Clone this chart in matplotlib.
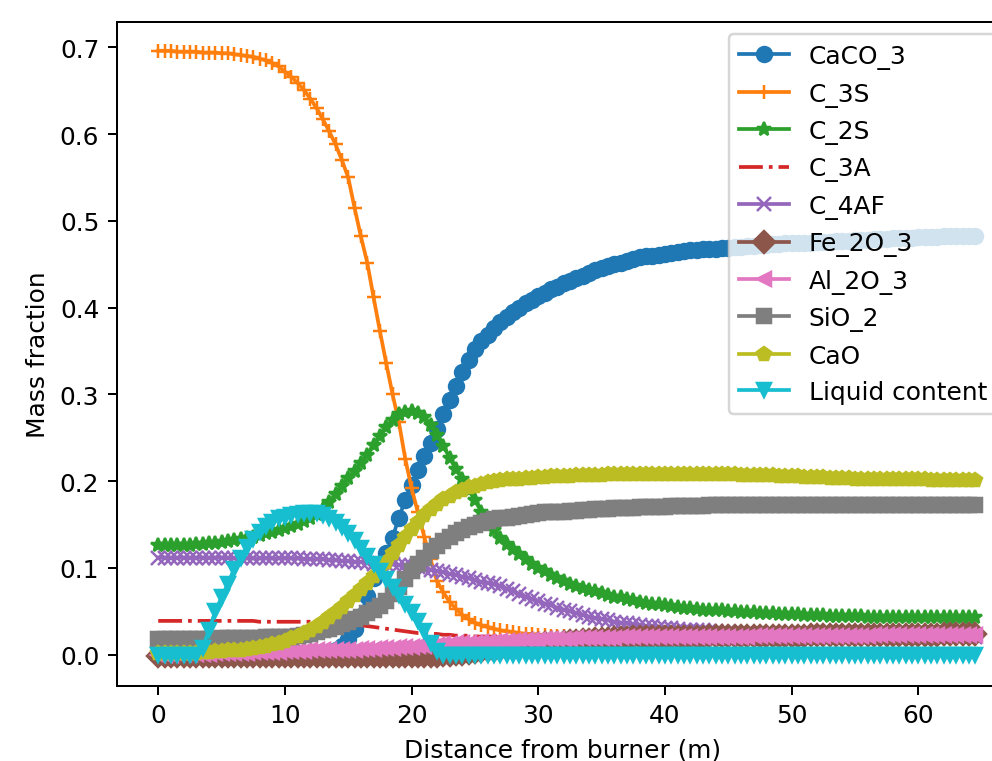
import numpy as np
import matplotlib
matplotlib.use("Agg")
import matplotlib.pyplot as plt

# sampling grid along the kiln (m), one point every 0.5 m
distance = np.arange(130) * 0.5

caco3 = [
    0.000, 0.000, 0.000, 0.000, 0.000, 0.000, 0.000, 0.000, 0.000, 0.000,
    0.000, 0.000, 0.000, 0.000, 0.000, 0.000, 0.000, 0.000, 0.000, 0.000,
    0.000, 0.000, 0.000, 0.000, 0.001, 0.001, 0.001, 0.002, 0.005, 0.010,
    0.018, 0.030, 0.045, 0.068, 0.088, 0.103, 0.117, 0.135, 0.158, 0.178,
    0.196, 0.213, 0.229, 0.244, 0.260, 0.277, 0.294, 0.310, 0.326, 0.340,
    0.352, 0.361, 0.369, 0.376, 0.383, 0.389, 0.395, 0.400, 0.405, 0.409,
    0.413, 0.417, 0.421, 0.424, 0.428, 0.431, 0.434, 0.437, 0.440, 0.443,
    0.446, 0.448, 0.450, 0.452, 0.454, 0.456, 0.458, 0.459, 0.460, 0.461,
    0.462, 0.463, 0.464, 0.465, 0.466, 0.466, 0.467, 0.468, 0.468, 0.469,
    0.469, 0.470, 0.470, 0.471, 0.471, 0.472, 0.472, 0.473, 0.473, 0.474,
    0.474, 0.474, 0.475, 0.475, 0.476, 0.476, 0.476, 0.477, 0.477, 0.477,
    0.478, 0.478, 0.478, 0.479, 0.479, 0.479, 0.480, 0.480, 0.480, 0.480,
    0.481, 0.481, 0.481, 0.481, 0.482, 0.482, 0.482, 0.482, 0.482, 0.483,
]
c3s = [
    0.696, 0.696, 0.696, 0.695, 0.695, 0.695, 0.695, 0.694, 0.694, 0.694,
    0.693, 0.693, 0.692, 0.691, 0.690, 0.689, 0.687, 0.685, 0.682, 0.678,
    0.672, 0.666, 0.659, 0.651, 0.641, 0.630, 0.617, 0.603, 0.588, 0.570,
    0.550, 0.515, 0.482, 0.452, 0.412, 0.373, 0.336, 0.300, 0.268, 0.226,
    0.192, 0.164, 0.136, 0.110, 0.085, 0.072, 0.061, 0.053, 0.046, 0.041,
    0.037, 0.034, 0.032, 0.030, 0.028, 0.027, 0.026, 0.025, 0.024, 0.024,
    0.023, 0.023, 0.022, 0.022, 0.022, 0.021, 0.021, 0.021, 0.021, 0.020,
    0.020, 0.020, 0.020, 0.020, 0.020, 0.020, 0.020, 0.020, 0.020, 0.020,
    0.019, 0.019, 0.019, 0.019, 0.019, 0.019, 0.019, 0.019, 0.019, 0.019,
    0.019, 0.019, 0.019, 0.019, 0.019, 0.019, 0.019, 0.019, 0.019, 0.019,
    0.019, 0.019, 0.019, 0.019, 0.019, 0.019, 0.019, 0.019, 0.019, 0.019,
    0.018, 0.018, 0.018, 0.018, 0.018, 0.018, 0.018, 0.018, 0.018, 0.018,
    0.018, 0.018, 0.018, 0.018, 0.018, 0.018, 0.018, 0.018, 0.018, 0.018,
]
c2s = [
    0.126, 0.126, 0.126, 0.127, 0.127, 0.127, 0.128, 0.128, 0.129, 0.129,
    0.130, 0.131, 0.132, 0.133, 0.134, 0.136, 0.138, 0.140, 0.142, 0.144,
    0.146, 0.148, 0.151, 0.154, 0.158, 0.162, 0.168, 0.176, 0.185, 0.195,
    0.204, 0.212, 0.221, 0.230, 0.242, 0.252, 0.262, 0.271, 0.277, 0.280,
    0.281, 0.279, 0.274, 0.265, 0.253, 0.241, 0.227, 0.214, 0.202, 0.190,
    0.178, 0.165, 0.154, 0.144, 0.135, 0.128, 0.122, 0.116, 0.110, 0.105,
    0.100, 0.096, 0.092, 0.088, 0.085, 0.082, 0.079, 0.077, 0.075, 0.073,
    0.071, 0.069, 0.067, 0.066, 0.064, 0.063, 0.061, 0.060, 0.059, 0.058,
    0.057, 0.056, 0.055, 0.054, 0.054, 0.053, 0.052, 0.052, 0.051, 0.051,
    0.050, 0.050, 0.049, 0.049, 0.049, 0.048, 0.048, 0.048, 0.047, 0.047,
    0.047, 0.047, 0.046, 0.046, 0.046, 0.046, 0.045, 0.045, 0.045, 0.045,
    0.045, 0.045, 0.044, 0.044, 0.044, 0.044, 0.044, 0.044, 0.043, 0.043,
    0.043, 0.043, 0.043, 0.043, 0.043, 0.043, 0.043, 0.043, 0.043, 0.043,
]
c3a = [
    0.039, 0.039, 0.039, 0.039, 0.039, 0.039, 0.039, 0.039, 0.039, 0.039,
    0.039, 0.039, 0.039, 0.039, 0.039, 0.039, 0.038, 0.038, 0.038, 0.038,
    0.038, 0.038, 0.038, 0.038, 0.038, 0.037, 0.037, 0.037, 0.037, 0.036,
    0.035, 0.034, 0.034, 0.033, 0.032, 0.031, 0.030, 0.029, 0.028, 0.027,
    0.026, 0.025, 0.025, 0.024, 0.024, 0.023, 0.023, 0.022, 0.022, 0.022,
    0.021, 0.021, 0.021, 0.021, 0.021, 0.021, 0.021, 0.021, 0.021, 0.021,
    0.020, 0.020, 0.020, 0.020, 0.020, 0.020, 0.020, 0.020, 0.020, 0.020,
    0.020, 0.020, 0.020, 0.020, 0.020, 0.020, 0.020, 0.020, 0.020, 0.020,
    0.020, 0.020, 0.020, 0.020, 0.020, 0.020, 0.020, 0.020, 0.020, 0.020,
    0.020, 0.020, 0.020, 0.020, 0.020, 0.020, 0.020, 0.020, 0.020, 0.020,
    0.020, 0.020, 0.020, 0.020, 0.020, 0.020, 0.020, 0.020, 0.020, 0.020,
    0.020, 0.020, 0.020, 0.020, 0.020, 0.020, 0.020, 0.020, 0.020, 0.020,
    0.020, 0.020, 0.020, 0.020, 0.020, 0.020, 0.020, 0.020, 0.020, 0.020,
]
c4af = [
    0.112, 0.112, 0.112, 0.112, 0.112, 0.112, 0.112, 0.112, 0.112, 0.112,
    0.112, 0.112, 0.111, 0.111, 0.111, 0.111, 0.111, 0.111, 0.111, 0.111,
    0.111, 0.111, 0.111, 0.110, 0.110, 0.110, 0.110, 0.109, 0.109, 0.108,
    0.108, 0.107, 0.107, 0.106, 0.105, 0.105, 0.104, 0.104, 0.103, 0.103,
    0.102, 0.101, 0.099, 0.098, 0.096, 0.095, 0.093, 0.092, 0.090, 0.088,
    0.086, 0.084, 0.083, 0.081, 0.079, 0.076, 0.073, 0.070, 0.067, 0.064,
    0.062, 0.059, 0.057, 0.054, 0.052, 0.050, 0.048, 0.046, 0.044, 0.042,
    0.041, 0.040, 0.038, 0.037, 0.036, 0.035, 0.034, 0.033, 0.033, 0.032,
    0.031, 0.031, 0.030, 0.029, 0.029, 0.028, 0.028, 0.027, 0.027, 0.026,
    0.026, 0.026, 0.025, 0.025, 0.025, 0.024, 0.024, 0.024, 0.024, 0.023,
    0.023, 0.023, 0.023, 0.023, 0.022, 0.022, 0.022, 0.022, 0.022, 0.022,
    0.022, 0.022, 0.021, 0.021, 0.021, 0.021, 0.021, 0.021, 0.021, 0.021,
    0.021, 0.021, 0.021, 0.021, 0.021, 0.021, 0.021, 0.021, 0.021, 0.021,
]
fe2o3 = [
    -0.001, -0.001, -0.001, -0.001, -0.001, -0.001, -0.001, -0.001, -0.001, -0.001,
    -0.001, -0.001, -0.001, -0.001, -0.001, -0.001, -0.001, -0.001, -0.001, -0.001,
    -0.001, -0.001, -0.001, -0.001, -0.001, -0.001, -0.001, -0.001, -0.001, -0.001,
    -0.001, -0.001, -0.001, -0.001, -0.001, -0.001, -0.001, -0.001, -0.001, -0.001,
    -0.001, -0.001, -0.001, -0.001, -0.001, 0.000, 0.000, 0.001, 0.001, 0.002,
    0.003, 0.004, 0.005, 0.006, 0.007, 0.008, 0.009, 0.010, 0.011, 0.012,
    0.012, 0.013, 0.014, 0.014, 0.015, 0.016, 0.016, 0.017, 0.017, 0.018,
    0.018, 0.018, 0.019, 0.019, 0.019, 0.020, 0.020, 0.020, 0.020, 0.021,
    0.021, 0.021, 0.021, 0.021, 0.021, 0.021, 0.021, 0.022, 0.022, 0.022,
    0.022, 0.022, 0.022, 0.022, 0.022, 0.022, 0.022, 0.022, 0.022, 0.022,
    0.022, 0.022, 0.022, 0.023, 0.023, 0.023, 0.023, 0.023, 0.023, 0.023,
    0.023, 0.023, 0.023, 0.023, 0.023, 0.023, 0.023, 0.023, 0.023, 0.023,
    0.023, 0.023, 0.023, 0.023, 0.024, 0.024, 0.024, 0.024, 0.024, 0.024,
]
al2o3 = [
    0.000, 0.000, 0.000, 0.001, 0.001, 0.001, 0.001, 0.001, 0.001, 0.002,
    0.002, 0.002, 0.002, 0.002, 0.002, 0.003, 0.003, 0.003, 0.003, 0.003,
    0.004, 0.004, 0.004, 0.004, 0.005, 0.005, 0.005, 0.005, 0.006, 0.006,
    0.006, 0.006, 0.007, 0.007, 0.007, 0.008, 0.008, 0.008, 0.009, 0.009,
    0.009, 0.010, 0.010, 0.011, 0.011, 0.012, 0.012, 0.013, 0.013, 0.014,
    0.014, 0.015, 0.015, 0.015, 0.016, 0.016, 0.016, 0.017, 0.017, 0.017,
    0.017, 0.018, 0.018, 0.018, 0.018, 0.018, 0.019, 0.019, 0.019, 0.019,
    0.019, 0.019, 0.019, 0.020, 0.020, 0.020, 0.020, 0.020, 0.020, 0.020,
    0.020, 0.020, 0.021, 0.021, 0.021, 0.021, 0.021, 0.021, 0.021, 0.021,
    0.021, 0.021, 0.021, 0.021, 0.022, 0.022, 0.022, 0.022, 0.022, 0.022,
    0.022, 0.022, 0.022, 0.022, 0.022, 0.022, 0.022, 0.022, 0.022, 0.022,
    0.022, 0.022, 0.022, 0.023, 0.023, 0.023, 0.023, 0.023, 0.023, 0.023,
    0.023, 0.023, 0.023, 0.023, 0.023, 0.023, 0.023, 0.023, 0.023, 0.023,
]
sio2 = [
    0.018, 0.018, 0.018, 0.018, 0.018, 0.018, 0.018, 0.018, 0.018, 0.018,
    0.019, 0.019, 0.019, 0.019, 0.019, 0.019, 0.019, 0.020, 0.020, 0.020,
    0.020, 0.021, 0.022, 0.023, 0.024, 0.026, 0.028, 0.030, 0.032, 0.035,
    0.038, 0.041, 0.044, 0.048, 0.052, 0.056, 0.062, 0.070, 0.078, 0.087,
    0.096, 0.104, 0.112, 0.119, 0.125, 0.131, 0.136, 0.140, 0.144, 0.147,
    0.150, 0.152, 0.154, 0.156, 0.157, 0.158, 0.159, 0.160, 0.161, 0.162,
    0.163, 0.164, 0.164, 0.165, 0.165, 0.166, 0.166, 0.167, 0.167, 0.168,
    0.168, 0.168, 0.169, 0.169, 0.169, 0.169, 0.170, 0.170, 0.170, 0.170,
    0.170, 0.171, 0.171, 0.171, 0.171, 0.171, 0.171, 0.172, 0.172, 0.172,
    0.172, 0.172, 0.172, 0.172, 0.172, 0.172, 0.172, 0.172, 0.172, 0.172,
    0.172, 0.172, 0.172, 0.172, 0.172, 0.172, 0.172, 0.172, 0.172, 0.172,
    0.172, 0.172, 0.172, 0.172, 0.172, 0.172, 0.172, 0.172, 0.172, 0.172,
    0.172, 0.172, 0.172, 0.172, 0.172, 0.172, 0.172, 0.172, 0.172, 0.172,
]
cao = [
    0.002, 0.002, 0.002, 0.002, 0.002, 0.002, 0.002, 0.003, 0.003, 0.004,
    0.004, 0.005, 0.005, 0.006, 0.007, 0.008, 0.009, 0.010, 0.012, 0.014,
    0.016, 0.019, 0.022, 0.025, 0.029, 0.033, 0.038, 0.043, 0.049, 0.055,
    0.062, 0.069, 0.076, 0.083, 0.091, 0.099, 0.107, 0.117, 0.127, 0.136,
    0.145, 0.153, 0.161, 0.168, 0.174, 0.179, 0.183, 0.187, 0.190, 0.193,
    0.195, 0.197, 0.199, 0.200, 0.201, 0.202, 0.203, 0.203, 0.204, 0.204,
    0.205, 0.205, 0.206, 0.206, 0.206, 0.206, 0.207, 0.207, 0.207, 0.207,
    0.207, 0.208, 0.208, 0.208, 0.208, 0.208, 0.208, 0.208, 0.208, 0.208,
    0.208, 0.208, 0.208, 0.208, 0.208, 0.208, 0.208, 0.208, 0.208, 0.208,
    0.208, 0.208, 0.207, 0.207, 0.207, 0.207, 0.207, 0.207, 0.206, 0.206,
    0.206, 0.206, 0.205, 0.205, 0.205, 0.205, 0.204, 0.204, 0.204, 0.204,
    0.203, 0.203, 0.203, 0.203, 0.202, 0.202, 0.202, 0.202, 0.202, 0.202,
    0.202, 0.202, 0.201, 0.201, 0.201, 0.201, 0.201, 0.201, 0.201, 0.201,
]
liquid = [
    0.000, 0.000, 0.000, 0.000, 0.000, 0.000, 0.000, 0.008, 0.028, 0.050,
    0.066, 0.082, 0.099, 0.112, 0.124, 0.133, 0.141, 0.148, 0.153, 0.157,
    0.159, 0.161, 0.162, 0.163, 0.163, 0.163, 0.161, 0.158, 0.153, 0.147,
    0.140, 0.132, 0.123, 0.114, 0.105, 0.096, 0.087, 0.078, 0.069, 0.059,
    0.049, 0.039, 0.027, 0.014, 0.004, 0.000, 0.000, 0.000, 0.000, 0.000,
    0.000, 0.000, 0.000, 0.000, 0.000, 0.000, 0.000, 0.000, 0.000, 0.000,
    0.000, 0.000, 0.000, 0.000, 0.000, 0.000, 0.000, 0.000, 0.000, 0.000,
    0.000, 0.000, 0.000, 0.000, 0.000, 0.000, 0.000, 0.000, 0.000, 0.000,
    0.000, 0.000, 0.000, 0.000, 0.000, 0.000, 0.000, 0.000, 0.000, 0.000,
    0.000, 0.000, 0.000, 0.000, 0.000, 0.000, 0.000, 0.000, 0.000, 0.000,
    0.000, 0.000, 0.000, 0.000, 0.000, 0.000, 0.000, 0.000, 0.000, 0.000,
    0.000, 0.000, 0.000, 0.000, 0.000, 0.000, 0.000, 0.000, 0.000, 0.000,
    0.000, 0.000, 0.000, 0.000, 0.000, 0.000, 0.000, 0.000, 0.000, 0.000,
]

species = [
    ("CaCO_3", caco3, "o", "-"),
    ("C_3S", c3s, "+", "-"),
    ("C_2S", c2s, "*", "-"),
    ("C_3A", c3a, "", "-."),
    ("C_4AF", c4af, "x", "-"),
    ("Fe_2O_3", fe2o3, "D", "-"),
    ("Al_2O_3", al2o3, "<", "-"),
    ("SiO_2", sio2, "s", "-"),
    ("CaO", cao, "p", "-"),
    ("Liquid content", liquid, "v", "-"),
]

DPI = 179
fig = plt.figure(figsize=(992 / DPI, 762 / DPI), dpi=DPI)
# the axes run past the right edge of the picture, like the cropped original
ax = fig.add_axes([0.1176, 0.0988, 0.900, 0.8714])

for name, vals, mk, ls in species:
    ax.plot(distance, vals, marker=mk if mk else None, linestyle=ls, label=name)

ax.set_xlim(-3.28, 67.2)
ax.set_ylim(-0.0357, 0.7295)
ax.set_xticks([0, 10, 20, 30, 40, 50, 60])
ax.set_xlabel("Distance from burner (m)")
ax.set_ylabel("Mass fraction")
ax.legend(loc="upper right")

fig.savefig("out.png", dpi=DPI)
